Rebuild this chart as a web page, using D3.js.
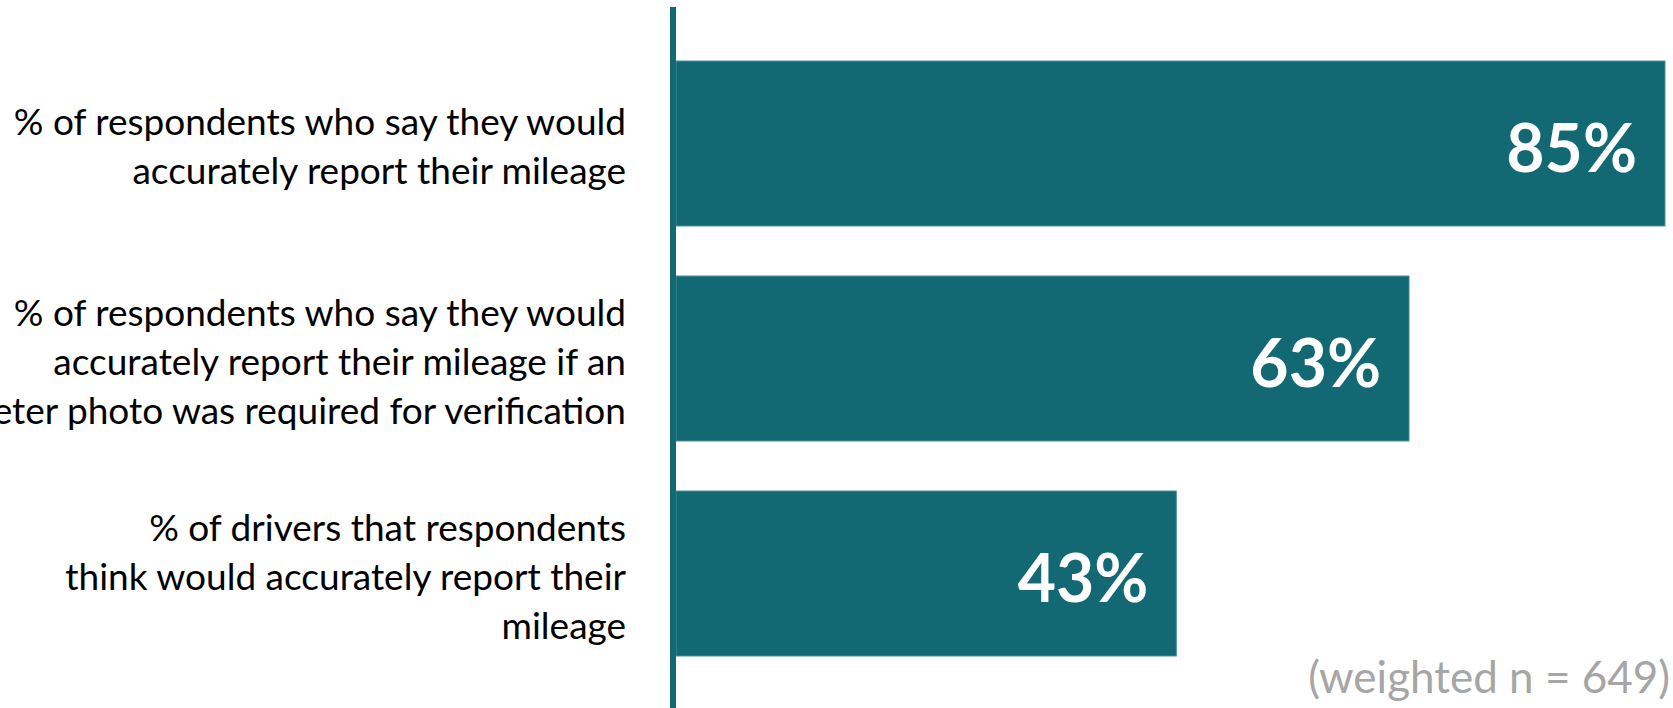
<!DOCTYPE html>
<html><head><meta charset="utf-8">
<script src="https://cdn.jsdelivr.net/npm/d3@7"></script>
<style>html,body{margin:0;padding:0;background:#fff;overflow:hidden}</style>
</head><body><svg id="chart" width="1673" height="708"></svg>
<script>
const categories = ["own", "ownWithPhoto", "others"];
const categoryLines = [
  ["% of respondents who say they would", "accurately report their mileage"],
  ["% of respondents who say they would", "accurately report their mileage if an", "odometer photo was required for verification"],
  ["% of drivers that respondents", "think would accurately report their", "mileage"]
];
const values = [85, 63, 43];
const valueLabels = ["85%", "63%", "43%"];
const note = "(weighted n = 649)";

const teal = "#126873";
const svg = d3.select("#chart");
const x = d3.scaleLinear().domain([0, 85]).range([676, 1665]);
const y = d3.scaleBand().domain(categories).range([36, 681]).paddingInner(0.2326).paddingOuter(0.1163);

svg.selectAll("rect.bar").data(values).join("rect")
  .attr("class", "bar")
  .attr("x", x(0))
  .attr("y", (d, i) => y(categories[i]))
  .attr("width", d => x(d) - x(0))
  .attr("height", y.bandwidth())
  .attr("fill", teal)
  .attr("stroke", "#4f8f98").attr("stroke-width", 1);

svg.append("line")
  .attr("x1", x(0) - 3).attr("x2", x(0) - 3)
  .attr("y1", 7).attr("y2", 708)
  .attr("stroke", teal).attr("stroke-width", 6);

svg.selectAll("text.val").data(values).join("text")
  .attr("class", "val")
  .attr("x", d => x(d) - 28)
  .attr("y", (d, i) => y(categories[i]) + y.bandwidth() / 2 + 28)
  .attr("text-anchor", "end")
  .attr("font-family", "Lato")
  .attr("font-weight", "bold")
  .attr("font-size", 66)
  .attr("fill", "#fff")
  .text((d, i) => valueLabels[i]);

const lh = 49;
categoryLines.forEach((lines, i) => {
  const cy = y(categories[i]) + y.bandwidth() / 2;
  const t = svg.append("text")
    .attr("text-anchor", "end")
    .attr("font-family", "Lato")
    .attr("font-size", 37)
    .attr("fill", "#000");
  lines.forEach((ln, j) => {
    t.append("tspan").attr("x", 626)
      .attr("y", cy + (j - (lines.length - 1) / 2) * lh + 16)
      .text(ln);
  });
});

svg.append("text")
  .attr("x", 1670).attr("y", 693)
  .attr("text-anchor", "end")
  .attr("font-family", "Lato")
  .attr("font-size", 44)
  .attr("fill", "#a6a6a6")
  .text(note);
</script></body></html>
